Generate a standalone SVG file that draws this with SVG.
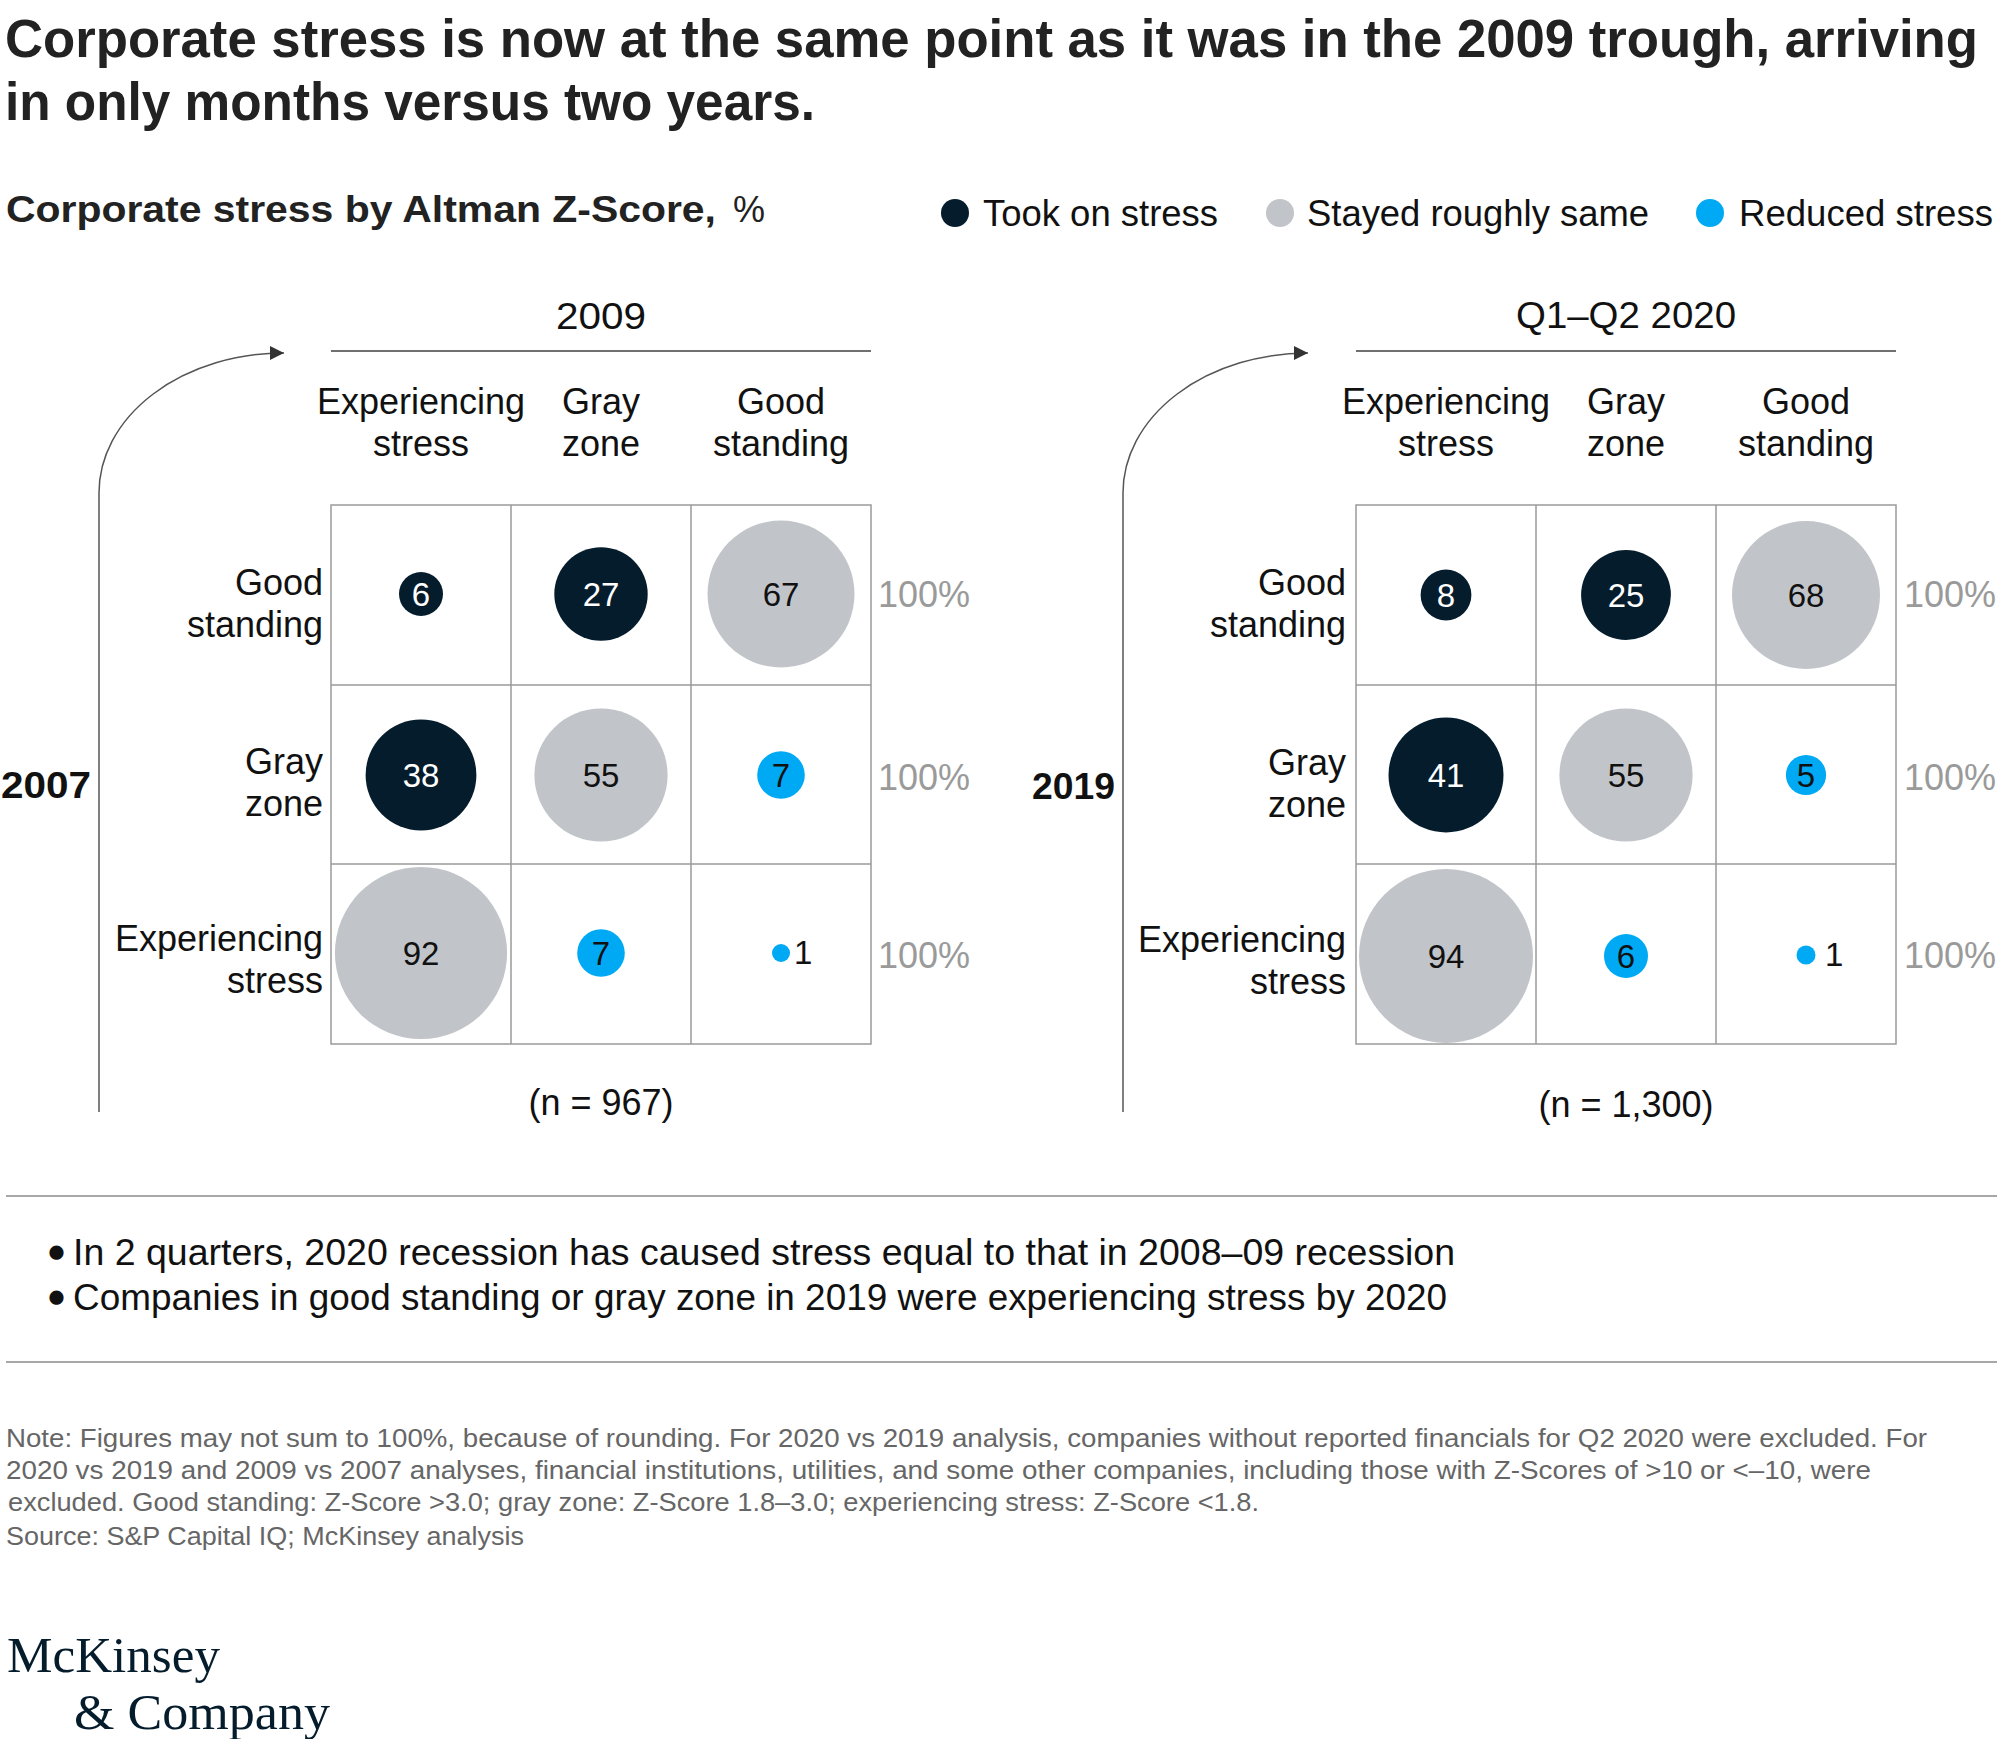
<svg xmlns="http://www.w3.org/2000/svg" width="2000" height="1739" viewBox="0 0 2000 1739">
<style>
text { font-family: "Liberation Sans", Arial, sans-serif; fill: #111; }
.title { font-size: 47px; font-weight: bold; fill: #222; }
.sub { font-size: 36px; font-weight: bold; fill: #222; }
.lbl { font-size: 36px; }
.mid { text-anchor: middle; }
.end { text-anchor: end; }
.num { font-size: 33px; text-anchor: middle; }
.w { fill: #fff; }
.pct { font-size: 36px; fill: #9a9a9a; }
.yr { font-size: 36px; font-weight: bold; }
.note { font-size: 25px; fill: #666; }
.bul { font-size: 37px; }
.dot { font-weight: bold; stroke: #111; stroke-width: 3.5; stroke-linejoin: round; }
.logo { font-family: "Liberation Serif", "Times New Roman", serif; font-size: 50px; fill: #051c2c; }
.dark { fill: #051c2c; }
.gray { fill: #c1c5c9; }
.blue { fill: #00a9f4; }
.grid { stroke: #9a9a9a; stroke-width: 1.5; fill: none; }
.hline { stroke: #707070; stroke-width: 2; }
.sep { stroke: #a8a8a8; stroke-width: 2; }
.arc { stroke: #555; stroke-width: 1.5; fill: none; marker-end: url(#arrow); }
</style>
<defs>
<marker id="arrow" viewBox="0 0 10 10" refX="10" refY="5" markerWidth="14" markerHeight="14" markerUnits="userSpaceOnUse" orient="auto">
<path d="M0,0 L10,5 L0,10 z" fill="#333"/>
</marker>
</defs>
<rect width="2000" height="1739" fill="#fff"/>

<g id="title" transform="scale(1,1.15)">
<text class="title" x="5" y="49.6" textLength="1973" lengthAdjust="spacingAndGlyphs">Corporate stress is now at the same point as it was in the 2009 trough, arriving</text>
<text class="title" x="5" y="104.4" textLength="810" lengthAdjust="spacingAndGlyphs">in only months versus two years.</text>
</g>

<g id="subtitle">
<text class="sub" x="6" y="222" textLength="710" lengthAdjust="spacingAndGlyphs">Corporate stress by Altman Z-Score,</text>
<text class="lbl" x="733" y="222" style="fill:#222">%</text>
</g>

<g id="legend">
<circle class="dark" cx="955" cy="213" r="14"/>
<text class="lbl" x="983" y="226" textLength="235" lengthAdjust="spacingAndGlyphs">Took on stress</text>
<circle class="gray" cx="1280" cy="213" r="14"/>
<text class="lbl" x="1307" y="226" textLength="342" lengthAdjust="spacingAndGlyphs">Stayed roughly same</text>
<circle class="blue" cx="1710" cy="213" r="14"/>
<text class="lbl" x="1739" y="226" textLength="254" lengthAdjust="spacingAndGlyphs">Reduced stress</text>
</g>

<g id="connectors">
<path class="arc" d="M99 1112 L99 493 A185 140 0 0 1 284 353"/>
<path class="arc" d="M1123 1112 L1123 493 A185 140 0 0 1 1308 353"/>
</g>

<g id="panel-2009">
<text class="lbl mid" x="601" y="329" textLength="90" lengthAdjust="spacingAndGlyphs">2009</text>
<line class="hline" x1="331" y1="351" x2="871" y2="351"/>
<text class="lbl mid" x="421" y="414">Experiencing</text>
<text class="lbl mid" x="421" y="456">stress</text>
<text class="lbl mid" x="601" y="414">Gray</text>
<text class="lbl mid" x="601" y="456">zone</text>
<text class="lbl mid" x="781" y="414">Good</text>
<text class="lbl mid" x="781" y="456">standing</text>
<text class="lbl end" x="323" y="595">Good</text>
<text class="lbl end" x="323" y="637">standing</text>
<text class="lbl end" x="323" y="774">Gray</text>
<text class="lbl end" x="323" y="816">zone</text>
<text class="lbl end" x="323" y="951">Experiencing</text>
<text class="lbl end" x="323" y="993">stress</text>
<text class="yr" x="1" y="798" textLength="90" lengthAdjust="spacingAndGlyphs">2007</text>
<g id="grid-2009">
<rect class="grid" x="331" y="505" width="540" height="539"/>
<line class="grid" x1="511" y1="505" x2="511" y2="1044"/>
<line class="grid" x1="691" y1="505" x2="691" y2="1044"/>
<line class="grid" x1="331" y1="685" x2="871" y2="685"/>
<line class="grid" x1="331" y1="864" x2="871" y2="864"/>
</g>
<g id="c2009-gs-es"><circle class="dark" cx="421" cy="594" r="22"/><text class="num w" x="421" y="606">6</text></g>
<g id="c2009-gs-gz"><circle class="dark" cx="601" cy="594" r="46.7"/><text class="num w" x="601" y="606">27</text></g>
<g id="c2009-gs-gs"><circle class="gray" cx="781" cy="594" r="73.5"/><text class="num" x="781" y="606">67</text></g>
<g id="c2009-gz-es"><circle class="dark" cx="421" cy="775" r="55.4"/><text class="num w" x="421" y="787">38</text></g>
<g id="c2009-gz-gz"><circle class="gray" cx="601" cy="775" r="66.6"/><text class="num" x="601" y="787">55</text></g>
<g id="c2009-gz-gs"><circle class="blue" cx="781" cy="775" r="23.8"/><text class="num" x="781" y="787">7</text></g>
<g id="c2009-es-es"><circle class="gray" cx="421" cy="953" r="86.1"/><text class="num" x="421" y="965">92</text></g>
<g id="c2009-es-gz"><circle class="blue" cx="601" cy="953" r="23.8"/><text class="num" x="601" y="965">7</text></g>
<g id="c2009-es-gs"><circle class="blue" cx="781" cy="953" r="9"/><text class="lbl" x="794" y="964" style="font-size:33px">1</text></g>
<text class="pct" x="878" y="607">100%</text>
<text class="pct" x="878" y="790">100%</text>
<text class="pct" x="878" y="968">100%</text>
<text class="lbl mid" x="601" y="1115">(n = 967)</text>
</g>

<g id="panel-2020">
<text class="lbl mid" x="1626" y="328" textLength="220" lengthAdjust="spacingAndGlyphs">Q1–Q2 2020</text>
<line class="hline" x1="1356" y1="351" x2="1896" y2="351"/>
<text class="lbl mid" x="1446" y="414">Experiencing</text>
<text class="lbl mid" x="1446" y="456">stress</text>
<text class="lbl mid" x="1626" y="414">Gray</text>
<text class="lbl mid" x="1626" y="456">zone</text>
<text class="lbl mid" x="1806" y="414">Good</text>
<text class="lbl mid" x="1806" y="456">standing</text>
<text class="lbl end" x="1346" y="595">Good</text>
<text class="lbl end" x="1346" y="637">standing</text>
<text class="lbl end" x="1346" y="775">Gray</text>
<text class="lbl end" x="1346" y="817">zone</text>
<text class="lbl end" x="1346" y="952">Experiencing</text>
<text class="lbl end" x="1346" y="994">stress</text>
<text class="yr" x="1032" y="799" textLength="83" lengthAdjust="spacingAndGlyphs">2019</text>
<g id="grid-2020">
<rect class="grid" x="1356" y="505" width="540" height="539"/>
<line class="grid" x1="1536" y1="505" x2="1536" y2="1044"/>
<line class="grid" x1="1716" y1="505" x2="1716" y2="1044"/>
<line class="grid" x1="1356" y1="685" x2="1896" y2="685"/>
<line class="grid" x1="1356" y1="864" x2="1896" y2="864"/>
</g>
<g id="c2020-gs-es"><circle class="dark" cx="1446" cy="595" r="25.4"/><text class="num w" x="1446" y="607">8</text></g>
<g id="c2020-gs-gz"><circle class="dark" cx="1626" cy="595" r="44.9"/><text class="num w" x="1626" y="607">25</text></g>
<g id="c2020-gs-gs"><circle class="gray" cx="1806" cy="595" r="74"/><text class="num" x="1806" y="607">68</text></g>
<g id="c2020-gz-es"><circle class="dark" cx="1446" cy="775" r="57.5"/><text class="num w" x="1446" y="787">41</text></g>
<g id="c2020-gz-gz"><circle class="gray" cx="1626" cy="775" r="66.6"/><text class="num" x="1626" y="787">55</text></g>
<g id="c2020-gz-gs"><circle class="blue" cx="1806" cy="775" r="20.1"/><text class="num" x="1806" y="787">5</text></g>
<g id="c2020-es-es"><circle class="gray" cx="1446" cy="956" r="87"/><text class="num" x="1446" y="968">94</text></g>
<g id="c2020-es-gz"><circle class="blue" cx="1626" cy="956" r="22"/><text class="num" x="1626" y="968">6</text></g>
<g id="c2020-es-gs"><circle class="blue" cx="1806" cy="955" r="9.5"/><text class="lbl" x="1825" y="966" style="font-size:33px">1</text></g>
<text class="pct" x="1904" y="607">100%</text>
<text class="pct" x="1904" y="790">100%</text>
<text class="pct" x="1904" y="968">100%</text>
<text class="lbl mid" x="1626" y="1117">(n = 1,300)</text>
</g>

<g id="takeaways">
<line class="sep" x1="6" y1="1196" x2="1997" y2="1196"/>
<text class="bul" y="1265"><tspan class="dot" x="50">•</tspan><tspan x="73" textLength="1382" lengthAdjust="spacingAndGlyphs">In 2 quarters, 2020 recession has caused stress equal to that in 2008–09 recession</tspan></text>
<text class="bul" y="1310"><tspan class="dot" x="50">•</tspan><tspan x="73" textLength="1374" lengthAdjust="spacingAndGlyphs">Companies in good standing or gray zone in 2019 were experiencing stress by 2020</tspan></text>
<line class="sep" x1="6" y1="1362" x2="1997" y2="1362"/>
</g>

<g id="notes">
<text class="note" x="6" y="1447" textLength="1921" lengthAdjust="spacingAndGlyphs">Note: Figures may not sum to 100%, because of rounding. For 2020 vs 2019 analysis, companies without reported financials for Q2 2020 were excluded. For</text>
<text class="note" x="6" y="1479" textLength="1865" lengthAdjust="spacingAndGlyphs">2020 vs 2019 and 2009 vs 2007 analyses, financial institutions, utilities, and some other companies, including those with Z-Scores of &gt;10 or &lt;–10, were</text>
<text class="note" x="8" y="1511" textLength="1251" lengthAdjust="spacingAndGlyphs">excluded. Good standing: Z-Score &gt;3.0; gray zone: Z-Score 1.8–3.0; experiencing stress: Z-Score &lt;1.8.</text>
<text class="note" x="6" y="1545" textLength="518" lengthAdjust="spacingAndGlyphs">Source: S&amp;P Capital IQ; McKinsey analysis</text>
</g>

<g id="logo">
<text class="logo" x="7" y="1672" textLength="213" lengthAdjust="spacingAndGlyphs">McKinsey</text>
<text class="logo" x="74" y="1729" textLength="256" lengthAdjust="spacingAndGlyphs">&amp; Company</text>
</g>
</svg>
